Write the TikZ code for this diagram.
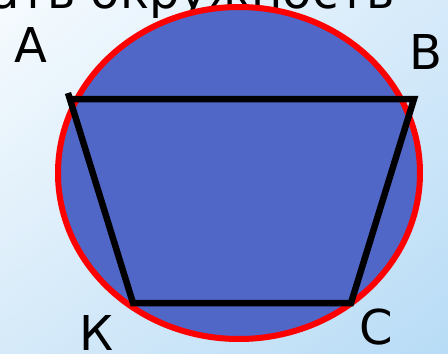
\documentclass[tikz,border=0pt]{standalone}
\usepackage{fontspec}
\setmainfont{DejaVu Sans}
\usetikzlibrary{shadings}
\definecolor{bgA}{RGB}{246,251,254}
\definecolor{bgB}{RGB}{214,234,250}
\definecolor{bgC}{RGB}{214,234,249}
\definecolor{bgD}{RGB}{184,220,246}
\definecolor{discblue}{RGB}{80,103,200}
\tikzset{
  lbl/.style={font=\fontsize{48}{48}\selectfont, inner sep=0pt},
  side/.style={line width=6.5pt, line cap=butt, line join=miter}
}
\begin{document}
\begin{tikzpicture}[x=1pt,y=-1pt]
\useasboundingbox (0,0) rectangle (448,354);
\shade[upper left=bgA, upper right=bgB, lower left=bgC, lower right=bgD] (0,0) rectangle (448,354);
\node[lbl, anchor=base east] (title) at (395,8) {ать окружность};
\filldraw[fill=discblue, draw=red, line width=6pt] (239,173) ellipse (181 and 166);
\coordinate (A0) at (68,93);
\coordinate (A) at (69,99);
\coordinate (B) at (414,99);
\coordinate (C) at (351,303);
\coordinate (K) at (133,303);
\draw[side] (A0) -- (K) -- (C) -- (B) -- (A);
\node[lbl] (a) at (31,45) {A};
\node[lbl] (b) at (426,52) {B};
\node[lbl] (k) at (97,333) {К};
\node[lbl] (c) at (376,327) {C};
\end{tikzpicture}
\end{document}
